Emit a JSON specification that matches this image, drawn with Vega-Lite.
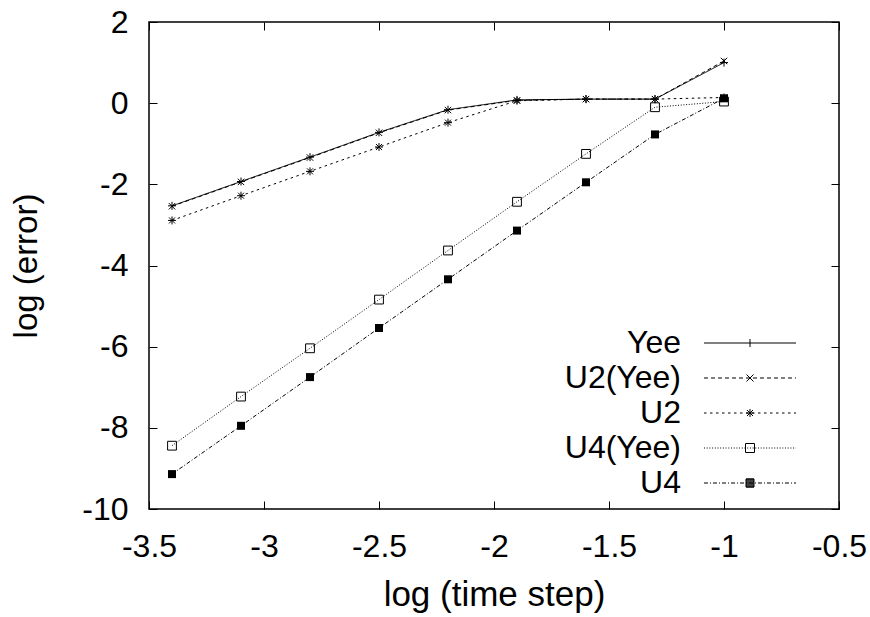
{
  "$schema": "https://vega.github.io/schema/vega-lite/v6.json",
  "width": 690,
  "height": 487,
  "autosize": {"type": "none"},
  "padding": {"left": 149, "top": 22, "right": 31, "bottom": 108},
  "background": "white",
  "config": {
    "view": {"stroke": "black", "strokeWidth": 1.5},
    "font": "Liberation Sans"
  },
  "data": {
    "values": [
      {"series": "Yee", "x": -3.4, "y": -2.53},
      {"series": "Yee", "x": -3.1, "y": -1.93},
      {"series": "Yee", "x": -2.8, "y": -1.33},
      {"series": "Yee", "x": -2.5, "y": -0.72},
      {"series": "Yee", "x": -2.2, "y": -0.16},
      {"series": "Yee", "x": -1.9, "y": 0.08},
      {"series": "Yee", "x": -1.6, "y": 0.1},
      {"series": "Yee", "x": -1.3, "y": 0.1},
      {"series": "Yee", "x": -1.0, "y": 1.0},
      {"series": "U2(Yee)", "x": -3.4, "y": -2.54},
      {"series": "U2(Yee)", "x": -3.1, "y": -1.94},
      {"series": "U2(Yee)", "x": -2.8, "y": -1.34},
      {"series": "U2(Yee)", "x": -2.5, "y": -0.73},
      {"series": "U2(Yee)", "x": -2.2, "y": -0.17},
      {"series": "U2(Yee)", "x": -1.9, "y": 0.07},
      {"series": "U2(Yee)", "x": -1.6, "y": 0.1},
      {"series": "U2(Yee)", "x": -1.3, "y": 0.1},
      {"series": "U2(Yee)", "x": -1.0, "y": 1.04},
      {"series": "U2", "x": -3.4, "y": -2.89},
      {"series": "U2", "x": -3.1, "y": -2.28},
      {"series": "U2", "x": -2.8, "y": -1.68},
      {"series": "U2", "x": -2.5, "y": -1.08},
      {"series": "U2", "x": -2.2, "y": -0.48},
      {"series": "U2", "x": -1.9, "y": 0.06},
      {"series": "U2", "x": -1.6, "y": 0.1},
      {"series": "U2", "x": -1.3, "y": 0.1},
      {"series": "U2", "x": -1.0, "y": 0.14},
      {"series": "U4(Yee)", "x": -3.4, "y": -8.44},
      {"series": "U4(Yee)", "x": -3.1, "y": -7.23},
      {"series": "U4(Yee)", "x": -2.8, "y": -6.04},
      {"series": "U4(Yee)", "x": -2.5, "y": -4.84},
      {"series": "U4(Yee)", "x": -2.2, "y": -3.63},
      {"series": "U4(Yee)", "x": -1.9, "y": -2.43},
      {"series": "U4(Yee)", "x": -1.6, "y": -1.25},
      {"series": "U4(Yee)", "x": -1.3, "y": -0.1},
      {"series": "U4(Yee)", "x": -1.0, "y": 0.04},
      {"series": "U4", "x": -3.4, "y": -9.14},
      {"series": "U4", "x": -3.1, "y": -7.95},
      {"series": "U4", "x": -2.8, "y": -6.75},
      {"series": "U4", "x": -2.5, "y": -5.54},
      {"series": "U4", "x": -2.2, "y": -4.34},
      {"series": "U4", "x": -1.9, "y": -3.14},
      {"series": "U4", "x": -1.6, "y": -1.95},
      {"series": "U4", "x": -1.3, "y": -0.77},
      {"series": "U4", "x": -1.0, "y": 0.12}
    ]
  },
  "resolve": {
    "scale": {"shape": "independent"},
    "axis": {"x": "independent", "y": "independent"}
  },
  "layer": [
    {
      "mark": {"type": "line", "color": "black", "strokeWidth": 1},
      "encoding": {
        "x": {
          "field": "x", "type": "quantitative",
          "scale": {"domain": [-3.5, -0.5], "nice": false, "zero": false},
          "axis": {
            "orient": "bottom",
            "values": [-3.5, -3, -2.5, -2, -1.5, -1, -0.5],
            "labelExpr": "'' + datum.value",
            "labelFont": "Liberation Sans", "labelFontSize": 32, "labelColor": "black",
            "labelPadding": 30, "labelFlush": false, "labelOverlap": false,
            "tickSize": -8, "tickColor": "black", "tickWidth": 1,
            "domain": false, "grid": false,
            "title": "log (time step)",
            "titleFont": "Liberation Sans", "titleFontSize": 35, "titleFontWeight": "normal", "titleColor": "black",
            "titleBaseline": "alphabetic", "titleY": 96
          }
        },
        "y": {
          "field": "y", "type": "quantitative",
          "scale": {"domain": [-10, 2], "nice": false, "zero": false},
          "axis": {
            "orient": "left",
            "values": [-10, -8, -6, -4, -2, 0, 2],
            "labelExpr": "'' + datum.value",
            "labelFont": "Liberation Sans", "labelFontSize": 32, "labelColor": "black",
            "labelPadding": 29, "labelFlush": false, "labelOverlap": false,
            "tickSize": -8, "tickColor": "black", "tickWidth": 1,
            "domain": false, "grid": false,
            "title": "log (error)",
            "titleFont": "Liberation Sans", "titleFontSize": 33, "titleFontWeight": "normal", "titleColor": "black",
            "titleBaseline": "alphabetic", "titleAngle": -90, "titleX": -113, "titleY": 243.5, "titleAlign": "center"
          }
        },
        "strokeDash": {
          "field": "series", "type": "nominal",
          "scale": {
            "domain": ["Yee", "U2(Yee)", "U2", "U4(Yee)", "U4"],
            "range": [[1, 0], [4, 3], [2.5, 3.5], [1, 1.7], [4, 2, 1, 2]]
          },
          "legend": null
        }
      }
    },
    {
      "transform": [{"filter": "datum.series != 'U4'"}],
      "mark": {"type": "point", "filled": false, "color": "black", "strokeWidth": 1, "size": 64, "opacity": 1},
      "encoding": {
        "x": {
          "field": "x", "type": "quantitative",
          "axis": {
            "orient": "top", "values": [-3.5, -3, -2.5, -2, -1.5, -1, -0.5],
            "labels": false, "title": null, "domain": false, "grid": false,
            "tickSize": -8, "tickColor": "black", "tickWidth": 1
          }
        },
        "y": {
          "field": "y", "type": "quantitative",
          "axis": {
            "orient": "right", "values": [-10, -8, -6, -4, -2, 0, 2],
            "labels": false, "title": null, "domain": false, "grid": false,
            "tickSize": -8, "tickColor": "black", "tickWidth": 1
          }
        },
        "shape": {
          "field": "series", "type": "nominal",
          "scale": {
            "domain": ["Yee", "U2(Yee)", "U2", "U4(Yee)"],
            "range": [
              "M-1,0H1M0,-1V1",
              "M-0.8,-0.8L0.8,0.8M-0.8,0.8L0.8,-0.8",
              "M-1,0H1M0,-1V1M-0.75,-0.75L0.75,0.75M-0.75,0.75L0.75,-0.75",
              "M-1.1,-1.1H1.1V1.1H-1.1Z"
            ]
          },
          "legend": null
        }
      }
    },
    {
      "transform": [{"filter": "datum.series == 'U4'"}],
      "mark": {"type": "point", "shape": "square", "filled": true, "color": "black", "size": 64, "opacity": 1},
      "encoding": {
        "x": {"field": "x", "type": "quantitative", "axis": null},
        "y": {"field": "y", "type": "quantitative", "axis": null}
      }
    },
    {
      "transform": [{"filter": "datum.x == -3.4"}],
      "mark": {"type": "point", "filled": false, "color": "black", "strokeWidth": 1, "opacity": 0},
      "encoding": {
        "x": {"field": "x", "type": "quantitative", "axis": null},
        "y": {"field": "y", "type": "quantitative", "axis": null},
        "shape": {
          "field": "series", "type": "nominal",
          "scale": {
            "domain": ["Yee", "U2(Yee)", "U2", "U4(Yee)", "U4"],
            "range": [
              "M-9.2,0H9.2M0,-0.8V0.8",
              "M-9.2,0h0.8m0.6,0h0.8m0.6,0h0.8m0.6,0h0.8m0.6,0h0.8m0.6,0h0.8m0.6,0h0.8m0.6,0h0.8m0.6,0h0.8m0.6,0h0.8m0.6,0h0.8m0.6,0h0.8m0.6,0h0.8m0.6,0h0.2M-0.7,-0.7L0.7,0.7M-0.7,0.7L0.7,-0.7",
              "M-9.2,0h0.5m0.7,0h0.5m0.7,0h0.5m0.7,0h0.5m0.7,0h0.5m0.7,0h0.5m0.7,0h0.5m0.7,0h0.5m0.7,0h0.5m0.7,0h0.5m0.7,0h0.5m0.7,0h0.5m0.7,0h0.5m0.7,0h0.5m0.7,0h0.5m0.7,0h0.4M-0.8,0H0.8M0,-0.8V0.8M-0.6,-0.6L0.6,0.6M-0.6,0.6L0.6,-0.6",
              "M-9.2,0h0.2m0.34,0h0.2m0.34,0h0.2m0.34,0h0.2m0.34,0h0.2m0.34,0h0.2m0.34,0h0.2m0.34,0h0.2m0.34,0h0.2m0.34,0h0.2m0.34,0h0.2m0.34,0h0.2m0.34,0h0.2m0.34,0h0.2m0.34,0h0.2m0.34,0h0.2m0.34,0h0.2m0.34,0h0.2m0.34,0h0.2m0.34,0h0.2m0.34,0h0.2m0.34,0h0.2m0.34,0h0.2m0.34,0h0.2m0.34,0h0.2m0.34,0h0.2m0.34,0h0.2m0.34,0h0.2m0.34,0h0.2m0.34,0h0.2m0.34,0h0.2m0.34,0h0.2m0.34,0h0.2m0.34,0h0.2m0.34,0h0.04M-0.9,-0.9H0.9V0.9H-0.9Z",
              "M-9.2,0h0.8m0.4,0h0.2m0.4,0h0.8m0.4,0h0.2m0.4,0h0.8m0.4,0h0.2m0.4,0h0.8m0.4,0h0.2m0.4,0h0.8m0.4,0h0.2m0.4,0h0.8m0.4,0h0.2m0.4,0h0.8m0.4,0h0.2m0.4,0h0.8m0.4,0h0.2m0.4,0h0.8m0.4,0h0.2m0.4,0h0.8m0.4,0h0.2m0.4,0h0.4M-0.8,-0.8h1.6m-1.6,0.2h1.6m-1.6,0.2h1.6m-1.6,0.2h1.6m-1.6,0.2h1.6m-1.6,0.2h1.6m-1.6,0.2h1.6m-1.6,0.2h1.6m-1.6,0.2h1.6M-0.8,-0.8H0.8V0.8H-0.8Z"
            ]
          },
          "legend": {
            "orient": "none", "legendX": 585, "legendY": 305,
            "title": null, "padding": 0,
            "symbolSize": 100, "symbolStrokeWidth": 1, "symbolStrokeColor": "black", "symbolFillColor": "transparent",
            "labelFont": "Liberation Sans", "labelFontSize": 32, "labelColor": "black",
            "labelAlign": "right", "labelOffset": -85, "labelLimit": 0,
            "rowPadding": 3
          }
        }
      }
    }
  ]
}
